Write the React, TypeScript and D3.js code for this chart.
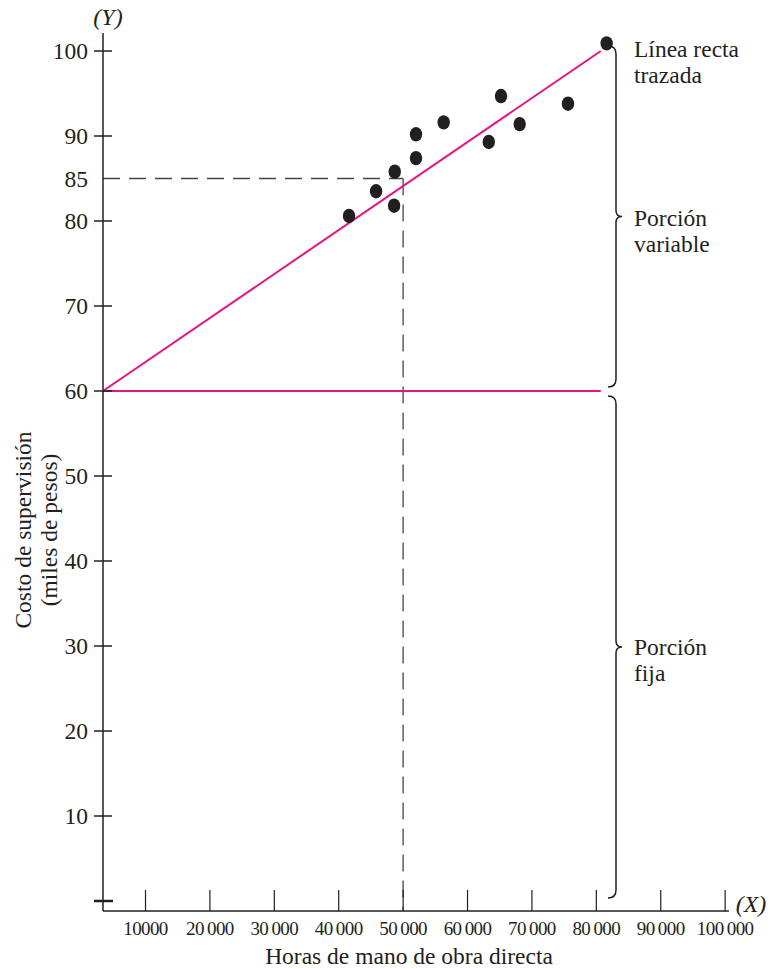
import React from "react";
import * as d3 from "d3";

// ---- data ----
const X_TICKS = [10000, 20000, 30000, 40000, 50000, 60000, 70000, 80000, 90000, 100000];
const X_TICK_LABELS = ["10000", "20\u2009000", "30\u2009000", "40\u2009000", "50\u2009000", "60\u2009000", "70\u2009000", "80\u2009000", "90\u2009000", "100\u2009000"];
const Y_TICKS = [10, 20, 30, 40, 50, 60, 70, 80, 90, 100];
const Y_REF_TICK = 85;
const X_REF = 50000;
const POINTS_X = [41600, 45800, 48600, 48700, 52000, 52000, 56300, 63300, 65200, 68100, 75600, 81600];
const POINTS_Y = [80.6, 83.5, 81.8, 85.8, 87.4, 90.2, 91.6, 89.3, 94.7, 91.4, 93.8, 100.9];
const FIT_X = [3400, 80700];
const FIT_Y = [60, 100];
const FIXED_Y = 60;
const VARIABLE_SPAN = [60, 100];
const FIXED_SPAN = [0, 60];
const LABEL_LINE = ["Línea recta", "trazada"];
const LABEL_VARIABLE = ["Porción", "variable"];
const LABEL_FIXED = ["Porción", "fija"];
const X_TITLE = "Horas de mano de obra directa";
const Y_TITLE = ["Costo de supervisión", "(miles de pesos)"];

const W = 781;
const H = 969;
const FONT = "'Liberation Serif', 'Times New Roman', serif";
const PINK = "#e5147f";
const INK = "#231f20";
const FS = 23.5;

export default function App() {
  const x = d3.scaleLinear().domain([3400, 100600]).range([103, 729]);
  const y = d3.scaleLinear().domain([0, 100]).range([901, 51]);
  const x0 = x.range()[0];
  const axisY = 911;
  const braceX = 616;

  const brace = (yTop: number, yBot: number) => {
    const mid = (yTop + yBot) / 2;
    const p = d3.path();
    p.moveTo(braceX - 8, yTop);
    p.quadraticCurveTo(braceX, yTop, braceX, yTop + 8);
    p.lineTo(braceX, mid - 6);
    p.quadraticCurveTo(braceX, mid, braceX + 6, mid);
    p.quadraticCurveTo(braceX, mid, braceX, mid + 6);
    p.lineTo(braceX, yBot - 8);
    p.quadraticCurveTo(braceX, yBot, braceX - 8, yBot);
    return { d: p.toString(), mid };
  };
  const bVar = brace(y(VARIABLE_SPAN[1]) - 5, y(VARIABLE_SPAN[0]) - 4);
  const bFix = brace(y(FIXED_SPAN[1]) + 5, y(FIXED_SPAN[0]) - 3);

  const fitLine = d3.line<number>()
    .x((_, i) => x(FIT_X[i]))
    .y((_, i) => y(FIT_Y[i]));

  return (
    <svg width={W} height={H} style={{ position: "absolute", left: 0, top: 0, background: "#fff" }} fontFamily={FONT}>
      {/* dashed reference lines */}
      <line x1={x0} x2={x(X_REF)} y1={y(Y_REF_TICK)} y2={y(Y_REF_TICK)} stroke="#444" strokeWidth={1.3} strokeDasharray="17,9" />
      <line x1={x(X_REF)} x2={x(X_REF)} y1={y(Y_REF_TICK)} y2={axisY} stroke="#444" strokeWidth={1.3} strokeDasharray="17,9" />

      {/* pink lines */}
      <path d={fitLine(FIT_X) ?? ""} stroke={PINK} strokeWidth={2} fill="none" />
      <line x1={x(FIT_X[0])} x2={x(FIT_X[1])} y1={y(FIXED_Y)} y2={y(FIXED_Y)} stroke={PINK} strokeWidth={2} />

      {/* axes */}
      <line x1={x0} x2={x0} y1={33} y2={axisY} stroke={INK} strokeWidth={1.5} />
      <line x1={x0} x2={x(100600)} y1={axisY} y2={axisY} stroke={INK} strokeWidth={1.5} />
      {Y_TICKS.map((t) => (
        <g key={t}>
          <line x1={x0 - 9} x2={x0 + 9} y1={y(t)} y2={y(t)} stroke={INK} strokeWidth={1.5} />
          <text x={88} y={y(t)} dy="0.35em" textAnchor="end" fontSize={FS} fill={INK}>{t}</text>
        </g>
      ))}
      <line x1={x0 - 9} x2={x0 + 10} y1={y(0)} y2={y(0)} stroke={INK} strokeWidth={2.5} />
      <text x={88} y={y(Y_REF_TICK)} dy="0.35em" textAnchor="end" fontSize={FS} fill={INK}>{Y_REF_TICK}</text>
      {X_TICKS.map((t, i) => (
        <g key={t}>
          <line x1={x(t)} x2={x(t)} y1={axisY - 21} y2={axisY} stroke={INK} strokeWidth={1.2} />
          <text x={x(t)} y={935} textAnchor="middle" fontSize={19} fill={INK} letterSpacing={-0.6}>{X_TICK_LABELS[i]}</text>
        </g>
      ))}
      <text x={751} y={912} textAnchor="middle" fontSize={24} fontStyle="italic" fill={INK}>(X)</text>
      <text x={108} y={25} textAnchor="middle" fontSize={24} fontStyle="italic" fill={INK}>(Y)</text>

      {/* titles */}
      <text x={409} y={964} textAnchor="middle" fontSize={FS} fill={INK}>{X_TITLE}</text>
      <g transform="translate(23,530) rotate(-90)">
        <text x={0} y={0} dy="0.35em" textAnchor="middle" fontSize={FS} fill={INK}>{Y_TITLE[0]}</text>
        <text x={0} y={26} dy="0.35em" textAnchor="middle" fontSize={FS} fill={INK}>{Y_TITLE[1]}</text>
      </g>

      {/* points */}
      {POINTS_X.map((px, i) => (
        <ellipse key={i} cx={x(px)} cy={y(POINTS_Y[i])} rx={6.2} ry={7.2} fill={INK} />
      ))}

      {/* braces */}
      <path d={bVar.d} stroke={INK} strokeWidth={1.5} fill="none" />
      <path d={bFix.d} stroke={INK} strokeWidth={1.5} fill="none" />

      {/* annotations */}
      <text x={634} y={y(100) + 6} fontSize={FS} fill={INK}>{LABEL_LINE[0]}</text>
      <text x={634} y={y(100) + 32} fontSize={FS} fill={INK}>{LABEL_LINE[1]}</text>
      <text x={634} y={bVar.mid + 9} fontSize={FS} fill={INK}>{LABEL_VARIABLE[0]}</text>
      <text x={634} y={bVar.mid + 35} fontSize={FS} fill={INK}>{LABEL_VARIABLE[1]}</text>
      <text x={634} y={bFix.mid + 8} fontSize={FS} fill={INK}>{LABEL_FIXED[0]}</text>
      <text x={634} y={bFix.mid + 34} fontSize={FS} fill={INK}>{LABEL_FIXED[1]}</text>
    </svg>
  );
}
